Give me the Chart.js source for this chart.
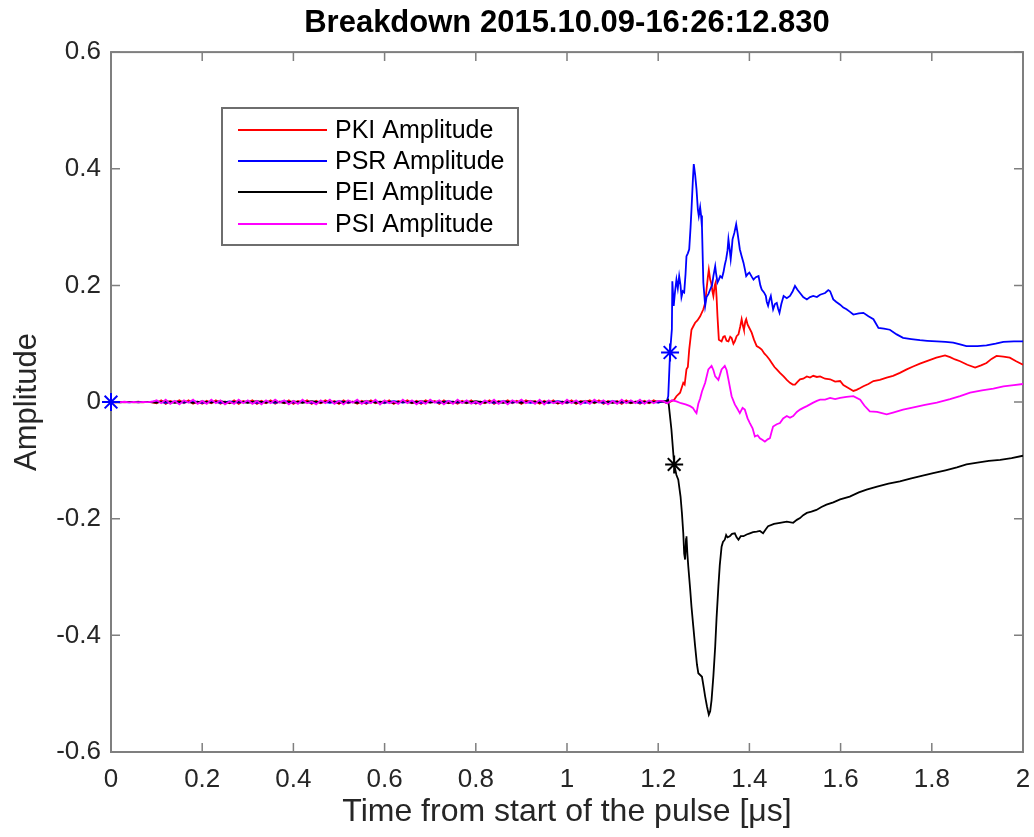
<!DOCTYPE html>
<html>
<head>
<meta charset="utf-8">
<script src="https://cdn.jsdelivr.net/npm/chart.js@4.4.1/dist/chart.umd.min.js"></script>
<style>
html, body { margin: 0; padding: 0; background: #fff; }
</style>
</head>
<body>
<canvas id="graph_breakdown" width="1034" height="837"></canvas>
<script>
// axis ticks
const xTicks = [0, 0.2, 0.4, 0.6, 0.8, 1, 1.2, 1.4, 1.6, 1.8, 2];
const yTicks = [-0.6, -0.4, -0.2, 0, 0.2, 0.4, 0.6];

const seriesNames = ["PKI Amplitude", "PSR Amplitude", "PEI Amplitude", "PSI Amplitude"];

// baseline before the breakdown, sample i is at t = i * step
const pkiStep = 0.01;
const pkiBase = [
	0, -0.0004, 0.0003, -0.0005, 0.0004, -0.0003, 0.0005, -0.0004, 0.0002, -0.0005,
	-0.002, 0.003, -0.003, 0.002, -0.001, 0.003, -0.002, 0.003, -0.003, 0.001,
	-0.003, 0.002, -0.002, 0.003, -0.003, 0.001, -0.002, 0.003, -0.003, 0.002,
	-0.001, 0.003, -0.003, 0.002, -0.002, 0.003, -0.003, 0.001, -0.002, 0.003,
	-0.003, 0.002, -0.001, 0.003, -0.003, 0.002, -0.002, 0.003, -0.001, 0.002,
	-0.003, 0.003, -0.002, 0.001, -0.003, 0.002, -0.003, 0.003, -0.002, 0.001,
	-0.002, 0.003, -0.003, 0.002, -0.001, 0.003, -0.002, 0.002, -0.003, 0.003,
	-0.001, 0.002, -0.003, 0.003, -0.002, 0.001, -0.003, 0.002, -0.002, 0.003,
	-0.003, 0.001, -0.002, 0.003, -0.003, 0.002, -0.001, 0.003, -0.002, 0.002,
	-0.003, 0.003, -0.001, 0.002, -0.003, 0.002, -0.002, 0.003, -0.003, 0.001,
	-0.002, 0.003, -0.003, 0.002, -0.001, 0.003, -0.002, 0.003, -0.003, 0.002,
	-0.001, 0.002, -0.003, 0.003, -0.002, 0.001, -0.003, 0.002, -0.002, 0.003,
	-0.001
];
const psiStep = 0.01;
const psiBase = [
	0, 0.0004, -0.0003, 0.0005, -0.0004, 0.0003, -0.0005, 0.0004, -0.0002, 0.0005,
	0.003, -0.002, 0.004, -0.003, 0.002, -0.004, 0.003, -0.001, 0.004, -0.003,
	0.002, -0.003, 0.004, -0.002, 0.003, -0.004, 0.001, -0.003, 0.004, -0.002,
	0.003, -0.003, 0.002, -0.004, 0.003, -0.002, 0.004, -0.001, 0.003, -0.004,
	0.002, -0.003, 0.004, -0.002, 0.001, -0.004, 0.003, -0.002, 0.004, -0.003,
	0.002, -0.004, 0.003, -0.001, 0.004, -0.003, 0.002, -0.002, 0.004, -0.004,
	0.003, -0.002, 0.001, -0.003, 0.004, -0.002, 0.003, -0.004, 0.002, -0.003,
	0.004, -0.001, 0.003, -0.004, 0.002, -0.003, 0.004, -0.002, 0.003, -0.003,
	0.001, -0.004, 0.003, -0.002, 0.004, -0.003, 0.002, -0.004, 0.003, -0.001,
	0.004, -0.002, 0.002, -0.003, 0.004, -0.004, 0.003, -0.002, 0.001, -0.003,
	0.004, -0.002, 0.003, -0.004, 0.002, -0.003, 0.004, -0.001, 0.003, -0.004,
	0.002, -0.003, 0.004, -0.002, 0.003, -0.002, 0.004, -0.003, 0.003, -0.002,
	0.002
];
const psrStep = 0.02;
const psrBase = [
	0, 0.0003, -0.0003, 0.0004, -0.0002, 0.001, -0.0015, 0.0012, -0.001, 0.0015,
	-0.0012, 0.001, -0.0015, 0.0013, -0.001, 0.0012, -0.0014, 0.001, -0.0012, 0.0015,
	-0.001, 0.0012, -0.0015, 0.001, -0.0013, 0.0014, -0.001, 0.0012, -0.0015, 0.001,
	-0.0012, 0.0015, -0.001, 0.0013, -0.0014, 0.001, -0.0012, 0.0015, -0.001, 0.0012,
	-0.0015, 0.001, -0.0013, 0.0014, -0.001, 0.0012, -0.0015, 0.001, -0.0012, 0.0015,
	-0.001, 0.0012, -0.0015, 0.001, -0.0013, 0.0014, -0.001, 0.0012, -0.0015, 0.001,
	-0.001
];
const peiStep = 0.02;
const peiBase = [
	0, -0.0003, 0.0003, -0.0004, 0.0002, -0.001, 0.0015, -0.0012, 0.001, -0.0015,
	0.0012, -0.001, 0.0015, -0.0013, 0.001, -0.0012, 0.0014, -0.001, 0.0012, -0.0015,
	0.001, -0.0012, 0.0015, -0.001, 0.0013, -0.0014, 0.001, -0.0012, 0.0015, -0.001,
	0.0012, -0.0015, 0.001, -0.0013, 0.0014, -0.001, 0.0012, -0.0015, 0.001, -0.0012,
	0.0015, -0.001, 0.0013, -0.0014, 0.001, -0.0012, 0.0015, -0.001, 0.0012, -0.0015,
	0.001, -0.0012, 0.0015, -0.001, 0.0013, -0.0014, 0.001, -0.0012, 0.0015, -0.001,
	0.001
];

// breakdown part [t (us), amplitude]
const pkiTail = [
	[1.21, 0.001], [1.22, -0.002], [1.23, 0.002], [1.235, 0.004], [1.24, 0.01], [1.248, 0.016],
	[1.255, 0.033], [1.258, 0.03], [1.262, 0.056], [1.265, 0.06], [1.268, 0.09], [1.273, 0.124],
	[1.277, 0.13], [1.281, 0.136], [1.286, 0.14], [1.292, 0.147], [1.299, 0.159], [1.303, 0.17],
	[1.306, 0.193], [1.309, 0.215], [1.311, 0.227], [1.314, 0.21], [1.316, 0.205], [1.319, 0.19],
	[1.321, 0.182], [1.324, 0.2], [1.326, 0.205], [1.328, 0.18], [1.33, 0.147], [1.333, 0.107],
	[1.339, 0.104], [1.343, 0.112], [1.346, 0.113], [1.35, 0.105], [1.354, 0.104], [1.358, 0.112],
	[1.361, 0.11], [1.365, 0.1], [1.368, 0.104], [1.372, 0.113], [1.376, 0.116], [1.38, 0.13],
	[1.383, 0.142], [1.386, 0.13], [1.388, 0.124], [1.391, 0.138], [1.393, 0.142], [1.396, 0.133],
	[1.398, 0.13], [1.405, 0.119], [1.41, 0.107], [1.416, 0.096], [1.422, 0.093], [1.427, 0.09],
	[1.433, 0.083], [1.438, 0.079], [1.444, 0.073], [1.449, 0.067], [1.455, 0.06], [1.46, 0.056],
	[1.467, 0.05], [1.475, 0.044], [1.482, 0.038], [1.489, 0.033], [1.495, 0.03], [1.5, 0.03],
	[1.506, 0.035], [1.511, 0.039], [1.518, 0.04], [1.526, 0.044], [1.533, 0.042], [1.54, 0.045],
	[1.548, 0.043], [1.555, 0.044], [1.566, 0.04], [1.577, 0.039], [1.588, 0.035], [1.599, 0.036],
	[1.606, 0.029], [1.617, 0.024], [1.628, 0.019], [1.635, 0.021], [1.643, 0.024], [1.65, 0.027],
	[1.661, 0.031], [1.672, 0.036], [1.686, 0.038], [1.701, 0.042], [1.715, 0.045], [1.73, 0.05],
	[1.745, 0.056], [1.759, 0.061], [1.774, 0.066], [1.789, 0.07], [1.81, 0.076], [1.829, 0.08],
	[1.84, 0.077], [1.851, 0.073], [1.862, 0.07], [1.878, 0.064], [1.895, 0.059], [1.908, 0.063],
	[1.92, 0.067], [1.931, 0.074], [1.942, 0.079], [1.957, 0.078], [1.971, 0.076], [1.985, 0.07],
	[2.0, 0.064]
];
const psrTail = [
	[1.21, 0.001], [1.218, -0.001], [1.222, 0.01], [1.226, 0.085], [1.23, 0.125], [1.231, 0.207],
	[1.234, 0.165], [1.237, 0.19], [1.24, 0.21], [1.243, 0.195], [1.246, 0.216], [1.249, 0.2],
	[1.251, 0.18], [1.254, 0.19], [1.257, 0.188], [1.26, 0.22], [1.262, 0.25], [1.265, 0.255],
	[1.268, 0.262], [1.271, 0.3], [1.273, 0.33], [1.276, 0.38], [1.278, 0.408], [1.281, 0.39],
	[1.284, 0.365], [1.287, 0.33], [1.289, 0.319], [1.292, 0.334], [1.294, 0.32], [1.296, 0.3],
	[1.299, 0.205], [1.303, 0.165], [1.306, 0.18], [1.31, 0.185], [1.314, 0.193], [1.318, 0.2],
	[1.321, 0.216], [1.325, 0.233], [1.327, 0.22], [1.33, 0.205], [1.333, 0.21], [1.336, 0.216],
	[1.34, 0.213], [1.343, 0.222], [1.346, 0.235], [1.349, 0.245], [1.352, 0.26], [1.354, 0.279],
	[1.357, 0.26], [1.359, 0.245], [1.361, 0.26], [1.363, 0.279], [1.367, 0.29], [1.371, 0.305],
	[1.374, 0.29], [1.376, 0.279], [1.379, 0.262], [1.383, 0.25], [1.387, 0.239], [1.39, 0.228],
	[1.393, 0.216], [1.397, 0.22], [1.4, 0.222], [1.405, 0.215], [1.409, 0.21], [1.414, 0.214],
	[1.42, 0.216], [1.424, 0.2], [1.427, 0.193], [1.432, 0.188], [1.436, 0.182], [1.438, 0.172],
	[1.441, 0.165], [1.444, 0.175], [1.447, 0.182], [1.45, 0.168], [1.452, 0.159], [1.456, 0.168],
	[1.46, 0.17], [1.463, 0.16], [1.466, 0.153], [1.47, 0.168], [1.475, 0.182], [1.482, 0.178],
	[1.489, 0.182], [1.495, 0.19], [1.5, 0.199], [1.505, 0.193], [1.511, 0.187], [1.518, 0.18],
	[1.526, 0.176], [1.533, 0.18], [1.54, 0.182], [1.548, 0.18], [1.555, 0.184], [1.566, 0.187],
	[1.573, 0.192], [1.577, 0.19], [1.584, 0.176], [1.59, 0.172], [1.599, 0.167], [1.606, 0.162],
	[1.613, 0.159], [1.62, 0.155], [1.628, 0.15], [1.64, 0.152], [1.65, 0.153], [1.661, 0.147],
	[1.672, 0.142], [1.683, 0.127], [1.695, 0.126], [1.708, 0.124], [1.723, 0.116], [1.737, 0.11],
	[1.755, 0.108], [1.774, 0.106], [1.79, 0.105], [1.811, 0.104], [1.83, 0.103], [1.847, 0.102],
	[1.862, 0.099], [1.876, 0.096], [1.9, 0.096], [1.92, 0.097], [1.94, 0.1], [1.957, 0.103],
	[1.98, 0.104], [2.0, 0.104]
];
const peiTail = [
	[1.21, 0.001], [1.218, 0.002], [1.222, 0.004], [1.229, -0.047], [1.235, -0.107], [1.24, -0.125],
	[1.244, -0.133], [1.249, -0.162], [1.252, -0.19], [1.255, -0.225], [1.257, -0.26], [1.259, -0.27],
	[1.261, -0.235], [1.262, -0.23], [1.264, -0.26], [1.266, -0.282], [1.27, -0.32], [1.273, -0.351],
	[1.277, -0.385], [1.281, -0.419], [1.285, -0.45], [1.288, -0.465], [1.292, -0.468], [1.296, -0.471],
	[1.3, -0.49], [1.303, -0.505], [1.307, -0.522], [1.311, -0.536], [1.314, -0.53], [1.317, -0.511],
	[1.321, -0.47], [1.325, -0.419], [1.328, -0.37], [1.332, -0.316], [1.335, -0.28], [1.339, -0.248],
	[1.342, -0.24], [1.346, -0.236], [1.349, -0.228], [1.352, -0.232], [1.357, -0.23], [1.362, -0.226],
	[1.368, -0.225], [1.372, -0.232], [1.376, -0.236], [1.381, -0.23], [1.387, -0.23], [1.394, -0.227],
	[1.401, -0.225], [1.408, -0.223], [1.416, -0.222], [1.423, -0.221], [1.43, -0.225], [1.436, -0.218],
	[1.441, -0.213], [1.454, -0.209], [1.467, -0.207], [1.482, -0.205], [1.496, -0.207], [1.504, -0.202],
	[1.511, -0.199], [1.518, -0.194], [1.526, -0.19], [1.536, -0.188], [1.547, -0.185], [1.558, -0.18],
	[1.569, -0.176], [1.584, -0.172], [1.599, -0.167], [1.62, -0.162], [1.64, -0.155], [1.657, -0.15],
	[1.68, -0.145], [1.705, -0.14], [1.73, -0.136], [1.755, -0.131], [1.78, -0.126], [1.803, -0.122],
	[1.83, -0.117], [1.855, -0.112], [1.876, -0.107], [1.9, -0.104], [1.925, -0.101], [1.95, -0.099],
	[1.975, -0.096], [2.0, -0.092]
];
const psiTail = [
	[1.21, 0.002], [1.22, -0.002], [1.23, 0.003], [1.24, 0.001], [1.25, -0.002], [1.26, -0.004],
	[1.27, -0.007], [1.276, -0.01], [1.281, -0.016], [1.284, -0.019], [1.288, -0.003], [1.292, 0.006],
	[1.296, 0.018], [1.303, 0.033], [1.31, 0.056], [1.317, 0.062], [1.321, 0.055], [1.325, 0.044],
	[1.332, 0.038], [1.339, 0.056], [1.346, 0.062], [1.35, 0.055], [1.354, 0.039], [1.361, 0.01],
	[1.368, -0.004], [1.374, -0.012], [1.379, -0.019], [1.385, -0.01], [1.39, -0.013], [1.396, -0.028],
	[1.401, -0.036], [1.407, -0.045], [1.412, -0.059], [1.418, -0.057], [1.423, -0.062], [1.429, -0.065],
	[1.434, -0.068], [1.44, -0.064], [1.445, -0.062], [1.449, -0.05], [1.452, -0.042], [1.46, -0.038],
	[1.467, -0.036], [1.474, -0.028], [1.482, -0.024], [1.489, -0.027], [1.496, -0.024], [1.504, -0.017],
	[1.511, -0.013], [1.518, -0.01], [1.526, -0.007], [1.533, -0.004], [1.54, -0.001], [1.548, 0.002],
	[1.555, 0.004], [1.566, 0.004], [1.577, 0.007], [1.588, 0.005], [1.599, 0.007], [1.613, 0.009],
	[1.628, 0.01], [1.643, 0.004], [1.652, -0.006], [1.664, -0.016], [1.68, -0.017], [1.701, -0.021],
	[1.715, -0.018], [1.737, -0.013], [1.76, -0.009], [1.785, -0.005], [1.811, -0.001], [1.84, 0.005],
	[1.862, 0.01], [1.884, 0.016], [1.91, 0.02], [1.935, 0.023], [1.957, 0.027], [1.98, 0.029],
	[2.0, 0.031]
];

// trigger markers (*)
const psrMarks = [[0, 0], [1.226, 0.085]];
const peiMarks = [[1.235, -0.107]];

const colPKI = "#ff0000";
const colPSR = "#0000ff";
const colPEI = "#000000";
const colPSI = "#ff00ff";
const axisGray = "#7f7f7f";
const textCol = "#262626";

function basePoints(vals, step) {
	return vals.map(function(v, i) {
		return { x: +(i * step).toFixed(3), y: v };
	});
}
function pairPoints(list) {
	return list.map(function(p) {
		return { x: p[0], y: p[1] };
	});
}

function lineSet(label, color, base, step, tail, order) {
	return {
		label: label,
		data: basePoints(base, step).concat(pairPoints(tail)),
		borderColor: color,
		backgroundColor: color,
		borderWidth: 1.8,
		pointRadius: 0,
		showLine: true,
		tension: 0,
		order: order
	};
}
function markSet(color, list) {
	return {
		label: "",
		data: pairPoints(list),
		borderColor: color,
		backgroundColor: color,
		pointStyle: "star",
		pointRadius: 9,
		pointBorderWidth: 2,
		showLine: false,
		clip: false,
		order: -1
	};
}

// box + inward ticks like matlab
const framePlugin = {
	id: "frame",
	beforeDatasetsDraw(chart) {
		const ctx = chart.ctx;
		const a = chart.chartArea;
		const xs = chart.scales.x;
		const ys = chart.scales.y;
		const tl = 9;
		ctx.save();
		ctx.strokeStyle = axisGray;
		ctx.lineWidth = 1.5;
		ctx.beginPath();
		xTicks.forEach(function(t) {
			const px = xs.getPixelForValue(t);
			ctx.moveTo(px, a.bottom); ctx.lineTo(px, a.bottom - tl);
			ctx.moveTo(px, a.top); ctx.lineTo(px, a.top + tl);
		});
		yTicks.forEach(function(t) {
			const py = ys.getPixelForValue(t);
			ctx.moveTo(a.left, py); ctx.lineTo(a.left + tl, py);
			ctx.moveTo(a.right, py); ctx.lineTo(a.right - tl, py);
		});
		ctx.stroke();
		ctx.lineWidth = 2;
		ctx.strokeRect(a.left, a.top, a.right - a.left, a.bottom - a.top);
		ctx.restore();
	}
};

// legend box inside the axes
const legendBoxPlugin = {
	id: "legendBox",
	afterDraw(chart) {
		const ctx = chart.ctx;
		const bx = 222, by = 108, bw = 296, bh = 137;
		const rows = [130, 161, 192, 224];
		const cols = [colPKI, colPSR, colPEI, colPSI];
		ctx.save();
		ctx.fillStyle = "#ffffff";
		ctx.fillRect(bx, by, bw, bh);
		ctx.strokeStyle = "#6e6e6e";
		ctx.lineWidth = 2;
		ctx.strokeRect(bx, by, bw, bh);
		ctx.font = "25px 'Liberation Sans', Arial, sans-serif";
		ctx.textBaseline = "middle";
		ctx.textAlign = "left";
		seriesNames.forEach(function(name, i) {
			ctx.strokeStyle = cols[i];
			ctx.lineWidth = 1.8;
			ctx.beginPath();
			ctx.moveTo(238, rows[i]);
			ctx.lineTo(327, rows[i]);
			ctx.stroke();
			ctx.fillStyle = "#000000";
			ctx.fillText(name, 335, rows[i] + 1);
		});
		ctx.restore();
	}
};

function tickText(v) {
	return String(Number(Number(v).toFixed(1)));
}

const ctx = document.getElementById("graph_breakdown").getContext("2d");
const breakdownChart = new Chart(ctx, {
	type: "scatter",
	data: {
		datasets: [
			lineSet(seriesNames[0], colPKI, pkiBase, pkiStep, pkiTail, 3),
			lineSet(seriesNames[1], colPSR, psrBase, psrStep, psrTail, 2),
			lineSet(seriesNames[2], colPEI, peiBase, peiStep, peiTail, 1),
			lineSet(seriesNames[3], colPSI, psiBase, psiStep, psiTail, 0),
			markSet(colPSR, psrMarks),
			markSet(colPEI, peiMarks)
		]
	},
	options: {
		responsive: false,
		animation: false,
		devicePixelRatio: 1,
		layout: { padding: { left: 0, right: 11, top: 0, bottom: 0 } },
		scales: {
			x: {
				type: "linear",
				min: 0,
				max: 2,
				afterBuildTicks: function(scale) {
					scale.ticks = xTicks.map(function(v) { return { value: v }; });
				},
				afterFit: function(scale) {
					scale.height = 85;
					scale.paddingLeft = 0;
					scale.paddingRight = 0;
				},
				grid: { display: false, drawTicks: false },
				border: { display: false },
				ticks: {
					padding: 12,
					color: textCol,
					maxRotation: 0,
					autoSkip: false,
					font: { family: "'Liberation Sans', Arial, sans-serif", size: 26 },
					callback: tickText
				},
				title: {
					display: true,
					text: "Time from start of the pulse [\u03bcs]",
					color: textCol,
					padding: { top: 0, bottom: 7 },
					font: { family: "'Liberation Sans', Arial, sans-serif", size: 32, lineHeight: 1.1 }
				}
			},
			y: {
				type: "linear",
				min: -0.6,
				max: 0.6,
				afterBuildTicks: function(scale) {
					scale.ticks = yTicks.map(function(v) { return { value: v }; });
				},
				afterFit: function(scale) {
					scale.width = 111;
					scale.paddingTop = 0;
					scale.paddingBottom = 0;
				},
				grid: { display: false, drawTicks: false },
				border: { display: false },
				ticks: {
					padding: 10,
					color: textCol,
					autoSkip: false,
					font: { family: "'Liberation Sans', Arial, sans-serif", size: 26 },
					callback: tickText
				},
				title: {
					display: true,
					text: "Amplitude",
					color: textCol,
					padding: { top: 10, bottom: 0 },
					font: { family: "'Liberation Sans', Arial, sans-serif", size: 31, lineHeight: 1.1 }
				}
			}
		},
		plugins: {
			legend: { display: false },
			tooltip: { enabled: false },
			title: {
				display: true,
				fullSize: false,
				text: "Breakdown 2015.10.09-16:26:12.830",
				color: "#000000",
				padding: { top: 6, bottom: 12 },
				font: { family: "'Liberation Sans', Arial, sans-serif", size: 31, weight: "bold", lineHeight: 1.1 }
			}
		}
	},
	plugins: [framePlugin, legendBoxPlugin]
});
</script>
</body>
</html>
